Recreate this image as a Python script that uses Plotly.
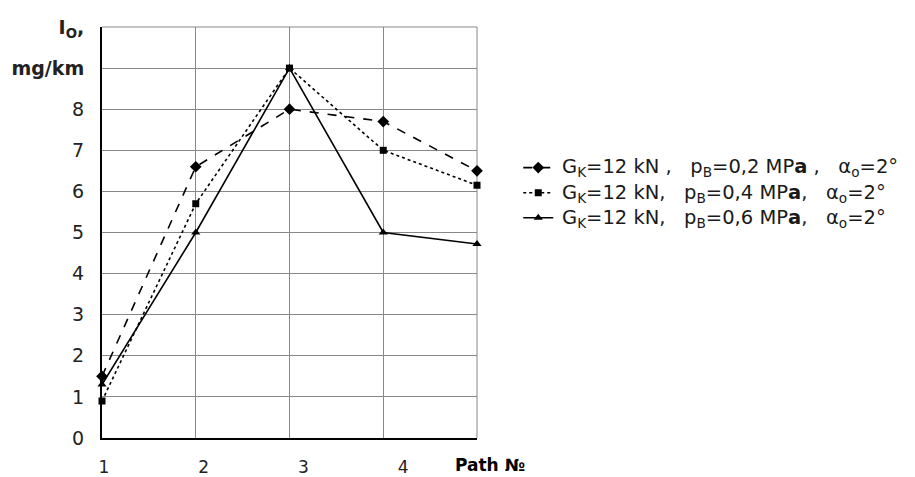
import plotly.graph_objects as go

paths = [1, 2, 3, 4, 5]
io_p02 = [1.5, 6.6, 8.0, 7.7, 6.5]
io_p04 = [0.9, 5.7, 9.0, 7.0, 6.15]
io_p06 = [1.3, 5.0, 9.0, 5.0, 4.72]

series_labels = [
    "G<sub>K</sub>=12 kN ,   p<sub>B</sub>=0,2 MP<b>a</b> ,   α<sub>o</sub>=2°",
    "G<sub>K</sub>=12 kN,   p<sub>B</sub>=0,4 MP<b>a</b>,   α<sub>o</sub>=2°",
    "G<sub>K</sub>=12 kN,   p<sub>B</sub>=0,6 MP<b>a</b>,   α<sub>o</sub>=2°",
]
y_tickvals = [0, 1, 2, 3, 4, 5, 6, 7, 8, 9, 10]
y_ticktext = ["0", "1", "2", "3", "4", "5", "6", "7", "8", "<b>mg/km</b>", "<b>I<sub>O</sub>,</b>"]
x_tickvals = [1, 2, 3, 4]
x_ticktext = ["1", "2", "3", "4"]
x_title = "<b>Path №</b>"

FONT = "DejaVu Sans"
LEG_FONT = 17                        # sets legend row pitch
ROW = LEG_FONT * 1.3 + 3             # plotly legend row height
LEG_X, LEG_Y = 1.11, 0.596

fig = go.Figure()
styles = [
    dict(dash="dash", symbol="diamond", size=9),
    dict(dash="dot", symbol="square", size=7),
    dict(dash="solid", symbol="triangle-up", size=8),
]
for ys, st in zip([io_p02, io_p04, io_p06], styles):
    fig.add_trace(go.Scatter(
        x=paths, y=ys, name="\u00a0", mode="lines+markers",
        line=dict(color="black", width=1.6, dash=st["dash"]),
        marker=dict(symbol=st["symbol"], size=st["size"], color="black"),
        cliponaxis=False,
    ))

# invisible trace on xaxis2 carrying the (slightly shifted) tick labels
fig.add_trace(go.Scatter(x=x_tickvals, y=[None] * len(x_tickvals), xaxis="x2",
                         showlegend=False, hoverinfo="skip"))

annotations = [dict(text=x_title, xref="paper", yref="paper",
                    x=0.935, y=0, yshift=-27, xanchor="left", yanchor="middle",
                    showarrow=False, font=dict(family=FONT, size=17, color="black"))]
for i, lab in enumerate(series_labels):
    annotations.append(dict(text=lab, xref="paper", yref="paper",
                            x=1.222, y=LEG_Y, yshift=-(i - 1) * ROW,
                            xanchor="left", yanchor="middle", showarrow=False,
                            font=dict(family=FONT, size=19.5, color="#1a1a1a")))

fig.update_layout(
    width=915, height=477,
    margin=dict(l=102, r=438, t=27, b=39),
    paper_bgcolor="white", plot_bgcolor="white",
    font=dict(family=FONT, size=16, color="#222"),
    xaxis=dict(range=[1, 5], tickvals=[1, 2, 3, 4, 5], showticklabels=False, automargin=False,
               showgrid=True, gridcolor="#888", gridwidth=1, zeroline=False,
               showline=True, linecolor="black", linewidth=2, ticks=""),
    xaxis2=dict(overlaying="x", anchor="y", side="bottom", range=[0.98, 4.74], automargin=False,
                tickvals=x_tickvals, ticktext=x_ticktext, showgrid=False, zeroline=False,
                showline=False, ticks="", ticklabelstandoff=17,
                tickfont=dict(family=FONT, size=17, color="#222")),
    yaxis=dict(range=[0, 10], tickvals=y_tickvals, ticktext=y_ticktext, automargin=False,
               showgrid=True, gridcolor="#888", gridwidth=1, zeroline=False,
               showline=True, linecolor="black", linewidth=2, ticks="",
               ticklabelstandoff=12, tickfont=dict(family=FONT, size=19, color="#222")),
    legend=dict(x=LEG_X, y=LEG_Y, xanchor="left", yanchor="middle",
                font=dict(family=FONT, size=LEG_FONT, color="#222"),
                bgcolor="rgba(0,0,0,0)", itemwidth=30, tracegroupgap=0),
    showlegend=True,
    hovermode=False,
    annotations=annotations,
)
# right and top borders of the grid
fig.add_shape(type="line", xref="paper", yref="paper", x0=1, x1=1, y0=0, y1=1,
              line=dict(color="#888", width=1), layer="below")
fig.add_shape(type="line", xref="paper", yref="paper", x0=0, x1=1, y0=1, y1=1,
              line=dict(color="#888", width=1), layer="below")

fig.write_html("out.html", config={"displayModeBar": False},
               post_script="document.body.style.margin='0';document.body.style.padding='0';")
